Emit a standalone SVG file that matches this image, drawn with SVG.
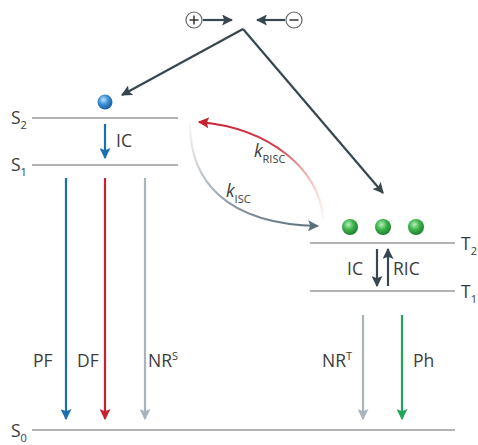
<svg xmlns="http://www.w3.org/2000/svg" width="478" height="445" viewBox="0 0 478 445">
<defs>
<style>
text{font-family:"Open Sans","Liberation Sans",sans-serif;font-size:17.5px;fill:#3c3c3c}
.sub{font-size:11px}
.lvl{stroke:#9a9a9a;stroke-width:1.5;fill:none}
.dk{stroke:#37474f;stroke-width:2.2;fill:none}
</style>
<marker id="mDk" viewBox="0 0 10 10" refX="9" refY="5" markerWidth="5" markerHeight="5" orient="auto" markerUnits="strokeWidth"><path d="M0,0L10,5L0,10L2,5Z" fill="#37474f"/></marker>
<marker id="mBl" viewBox="0 0 10 10" refX="9" refY="5" markerWidth="5" markerHeight="5" orient="auto" markerUnits="strokeWidth"><path d="M0,0L10,5L0,10L2,5Z" fill="#1a6fb0"/></marker>
<marker id="mRd" viewBox="0 0 10 10" refX="9" refY="5" markerWidth="5" markerHeight="5" orient="auto" markerUnits="strokeWidth"><path d="M0,0L10,5L0,10L2,5Z" fill="#c8202f"/></marker>
<marker id="mGy" viewBox="0 0 10 10" refX="9" refY="5" markerWidth="5" markerHeight="5" orient="auto" markerUnits="strokeWidth"><path d="M0,0L10,5L0,10L2,5Z" fill="#a8b3bc"/></marker>
<marker id="mGn" viewBox="0 0 10 10" refX="9" refY="5" markerWidth="5" markerHeight="5" orient="auto" markerUnits="strokeWidth"><path d="M0,0L10,5L0,10L2,5Z" fill="#1fa45a"/></marker>
<marker id="mSl" viewBox="0 0 10 10" refX="9" refY="5" markerWidth="5" markerHeight="5" orient="auto" markerUnits="strokeWidth"><path d="M0,0L10,5L0,10L2,5Z" fill="#5a6f7c"/></marker>
<radialGradient id="gBlue" cx="0.4" cy="0.35" r="0.65"><stop offset="0" stop-color="#bfe3ff"/><stop offset="0.5" stop-color="#3b8fd6"/><stop offset="1" stop-color="#1a5e9e"/></radialGradient>
<radialGradient id="gGreen" cx="0.4" cy="0.35" r="0.65"><stop offset="0" stop-color="#b8f0c0"/><stop offset="0.5" stop-color="#3cb54a"/><stop offset="1" stop-color="#1f7f32"/></radialGradient>
<linearGradient id="gRed" gradientUnits="userSpaceOnUse" x1="198" y1="122" x2="323" y2="218"><stop offset="0" stop-color="#c8202f"/><stop offset="0.5" stop-color="#c8202f" stop-opacity="0.85"/><stop offset="1" stop-color="#e8a090" stop-opacity="0.1"/></linearGradient>
<linearGradient id="gSl" gradientUnits="userSpaceOnUse" x1="190" y1="124" x2="318" y2="226"><stop offset="0" stop-color="#5a6f7c" stop-opacity="0.05"/><stop offset="0.5" stop-color="#5a6f7c" stop-opacity="0.7"/><stop offset="1" stop-color="#5a6f7c"/></linearGradient>
</defs>

<g id="charges">
<circle cx="194" cy="20" r="8" fill="#fff" stroke="#666" stroke-width="1.2"/>
<path d="M189.5,20h9M194,15.5v9" stroke="#333" stroke-width="1.5"/>
<circle cx="294" cy="20" r="8" fill="#fff" stroke="#666" stroke-width="1.2"/>
<path d="M289.5,20h9" stroke="#333" stroke-width="1.5"/>
</g>

<g id="levels">
<line class="lvl" x1="32" y1="118" x2="178" y2="118"/>
<line class="lvl" x1="32" y1="165" x2="178" y2="165"/>
<line class="lvl" x1="310" y1="243" x2="455" y2="243"/>
<line class="lvl" x1="310" y1="291" x2="455" y2="291"/>
<line class="lvl" x1="32" y1="430" x2="455" y2="430"/>
<text x="11" y="124">S<tspan class="sub" dy="5">2</tspan></text>
<text x="11" y="171">S<tspan class="sub" dy="5">1</tspan></text>
<text x="11" y="437">S<tspan class="sub" dy="5">0</tspan></text>
<text x="461" y="250">T<tspan class="sub" dy="5">2</tspan></text>
<text x="461" y="298">T<tspan class="sub" dy="5">1</tspan></text>
</g>

<g id="particles">
<circle cx="105" cy="102" r="7.5" fill="url(#gBlue)"/>
<circle cx="350" cy="227" r="8" fill="url(#gGreen)"/>
<circle cx="383" cy="227" r="8" fill="url(#gGreen)"/>
<circle cx="416" cy="227" r="8" fill="url(#gGreen)"/>
</g>

<g id="connectors">
<line class="dk" x1="203" y1="20" x2="232" y2="20" marker-end="url(#mDk)"/>
<line class="dk" x1="285" y1="20" x2="257" y2="20" marker-end="url(#mDk)"/>
<line class="dk" x1="243" y1="29" x2="122" y2="95" marker-end="url(#mDk)"/>
<line class="dk" x1="243" y1="29" x2="383" y2="193" marker-end="url(#mDk)"/>
<line x1="105" y1="124" x2="105" y2="158" stroke="#1a6fb0" stroke-width="2.2" marker-end="url(#mBl)"/>
<line x1="66" y1="178" x2="66" y2="419" stroke="#1a6fb0" stroke-width="2.2" marker-end="url(#mBl)"/>
<line x1="105" y1="178" x2="105" y2="419" stroke="#c8202f" stroke-width="2.2" marker-end="url(#mRd)"/>
<line x1="145" y1="178" x2="145" y2="419" stroke="#a8b3bc" stroke-width="2.2" marker-end="url(#mGy)"/>
<line x1="363" y1="315" x2="363" y2="419" stroke="#a8b3bc" stroke-width="2.2" marker-end="url(#mGy)"/>
<line x1="402" y1="315" x2="402" y2="419" stroke="#1fa45a" stroke-width="2.2" marker-end="url(#mGn)"/>
<line class="dk" x1="377" y1="249" x2="377" y2="286" marker-end="url(#mDk)"/>
<line class="dk" x1="388" y1="286" x2="388" y2="249" marker-end="url(#mDk)"/>
<path d="M323,218 C320,170 270,128 199,122" fill="none" stroke="url(#gRed)" stroke-width="2.2" marker-end="url(#mRd)"/>
<path d="M190,124 C190,180 225,224 318,226" fill="none" stroke="url(#gSl)" stroke-width="2.2" marker-end="url(#mSl)"/>
</g>

<g id="labels">
<text x="116" y="147">IC</text>
<text x="33" y="367">PF</text>
<text x="77" y="367">DF</text>
<text x="148" y="367">NR<tspan class="sub" dy="-7">S</tspan></text>
<text x="322" y="367">NR<tspan class="sub" dy="-7">T</tspan></text>
<text x="413" y="367">Ph</text>
<text x="347" y="275">IC</text>
<text x="393" y="275">RIC</text>
<text x="254" y="157" font-style="italic" font-size="19">k<tspan class="sub" font-style="normal" dy="6">RISC</tspan></text>
<text x="226" y="197" font-style="italic" font-size="19">k<tspan class="sub" font-style="normal" dy="6">ISC</tspan></text>
</g>
</svg>
